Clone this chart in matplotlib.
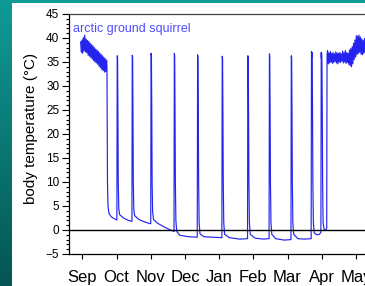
import matplotlib
matplotlib.use("Agg")
import matplotlib.pyplot as plt
import numpy as np
from matplotlib.patches import Rectangle

plt.rcParams['font.family'] = ['Liberation Sans', 'DejaVu Sans']

# months since 1 Sep (tick positions) and body temperature
month_labels = ['Sep', 'Oct', 'Nov', 'Dec', 'Jan', 'Feb', 'Mar', 'Apr', 'May']
month_ticks = [0, 1, 2, 3, 4, 5, 6, 7, 8]

# euthermic period before hibernation (noisy band)
autumn_t = [-0.05, -0.03, -0.01, 0.01, 0.03, 0.05, 0.07, 0.09, 0.11, 0.13,
            0.15, 0.17, 0.19, 0.21, 0.23, 0.25, 0.27, 0.29, 0.31, 0.33,
            0.35, 0.37, 0.39, 0.41, 0.43, 0.45, 0.47, 0.49, 0.51, 0.53,
            0.55, 0.57, 0.59, 0.61, 0.63, 0.65, 0.67, 0.69, 0.71]
autumn_T = [39.2, 37.0, 39.6, 36.8, 40.1, 37.3, 40.6, 37.1, 39.8, 36.9,
            39.5, 36.4, 39.3, 36.2, 38.9, 35.9, 38.6, 35.6, 38.4, 35.3,
            38.0, 35.0, 37.7, 34.8, 37.5, 34.5, 37.2, 34.1, 36.9, 33.8,
            36.6, 33.4, 36.3, 33.2, 36.0, 32.9, 35.7, 33.0, 35.4]

# torpor bouts and interbout arousals
torpor_t = [0.72, 0.725, 0.735, 0.75, 0.78, 0.84, 0.92, 1.01,
            1.015, 1.02, 1.03, 1.04, 1.05, 1.065, 1.09, 1.2, 1.35, 1.45,
            1.455, 1.46, 1.47, 1.48, 1.49, 1.505, 1.53, 1.65, 1.85, 2.0,
            2.005, 2.01, 2.02, 2.03, 2.04, 2.055, 2.08, 2.2, 2.4, 2.55, 2.68,
            2.685, 2.69, 2.70, 2.71, 2.72, 2.735, 2.76, 2.85, 3.1, 3.36,
            3.365, 3.37, 3.38, 3.39, 3.40, 3.415, 3.44, 3.55, 3.8, 4.08,
            4.085, 4.09, 4.10, 4.11, 4.12, 4.135, 4.16, 4.3, 4.6, 4.83,
            4.835, 4.84, 4.85, 4.86, 4.87, 4.885, 4.91, 5.05, 5.3, 5.46,
            5.465, 5.47, 5.48, 5.49, 5.50, 5.515, 5.54, 5.65, 5.9, 6.10,
            6.105, 6.11, 6.12, 6.13, 6.14, 6.155, 6.18, 6.3, 6.5, 6.69,
            6.695, 6.70, 6.705, 6.71, 6.72, 6.73, 6.74, 6.755, 6.78, 6.85, 6.93, 6.975,
            6.98, 6.985, 6.99, 6.995, 7.005, 7.015, 7.025, 7.04, 7.07, 7.11, 7.145,
            7.15, 7.155]
torpor_T = [34.0, 25.0, 10.0, 5.0, 3.4, 2.8, 2.4, 2.1,
            20.0, 36.3, 36.0, 25.0, 10.0, 4.5, 3.2, 2.5, 2.0, 1.8,
            20.0, 36.4, 36.0, 25.0, 10.0, 4.2, 3.0, 2.2, 1.6, 1.3,
            20.0, 36.8, 36.2, 25.0, 10.0, 3.8, 2.2, 1.4, 0.6, 0.1, -0.3,
            20.0, 36.8, 36.3, 25.0, 10.0, 2.0, -0.3, -1.1, -1.4, -1.5,
            20.0, 36.5, 36.0, 25.0, 10.0, 1.5, -0.8, -1.4, -1.5, -1.6,
            20.0, 36.2, 35.8, 25.0, 10.0, 1.5, -0.9, -1.6, -1.9, -1.8,
            20.0, 36.3, 35.8, 25.0, 10.0, 1.5, -0.9, -1.7, -1.9, -1.8,
            20.0, 36.7, 36.2, 25.0, 10.0, 1.5, -0.9, -1.8, -2.1, -2.0,
            20.0, 36.3, 35.9, 25.0, 10.0, 1.5, -0.9, -1.8, -1.9, -1.8,
            20.0, 37.2, 36.0, 37.0, 35.8, 25.0, 10.0, 1.5, -0.6, -1.0, -0.9, -0.5,
            20.0, 37.0, 35.8, 36.8, 35.5, 25.0, 10.0, 1.5, 0.1, 0.0, 0.3,
            20.0, 36.5]

# euthermic period after emergence (noisy band)
spring_t = [7.17, 7.19, 7.21, 7.23, 7.25, 7.27, 7.29, 7.31, 7.33, 7.35,
            7.37, 7.39, 7.41, 7.43, 7.45, 7.47, 7.49, 7.51, 7.53, 7.55,
            7.57, 7.59, 7.61, 7.63, 7.65, 7.67, 7.69, 7.71, 7.73, 7.75,
            7.77, 7.79, 7.81, 7.83, 7.85, 7.87, 7.89, 7.91, 7.93, 7.95,
            7.97, 7.99, 8.01, 8.03, 8.05, 8.07, 8.09, 8.11, 8.13, 8.15,
            8.17, 8.19, 8.21, 8.23, 8.25, 8.27, 8.29, 8.31, 8.33]
spring_T = [37.4, 34.6, 36.9, 34.8, 37.2, 35.0, 36.8, 34.7, 37.0, 34.9,
            36.7, 35.1, 37.1, 34.8, 36.9, 34.6, 36.8, 35.0, 37.0, 34.9,
            36.7, 35.2, 37.3, 34.8, 36.9, 35.0, 37.4, 34.7, 37.0, 34.9,
            36.8, 34.5, 37.5, 34.2, 37.8, 34.0, 38.2, 34.6, 38.9, 35.5,
            39.6, 36.0, 40.5, 36.5, 40.4, 36.8, 40.6, 37.0, 40.2, 36.6,
            39.8, 36.5, 39.5, 36.8, 39.9, 37.0, 40.0, 37.2, 39.6]

t = np.array(autumn_t + torpor_t + spring_t)
T = np.array(autumn_T + torpor_T + spring_T)

W, H = 365, 286
fig = plt.figure(figsize=(W / 100, H / 100), dpi=100)

# teal slide background with white panel
bg = fig.add_axes([0, 0, 1, 1])
grad = np.linspace(0, 1, 256)[:, None]
top_c = np.array([16, 155, 150]) / 255
bot_c = np.array([5, 85, 82]) / 255
img = top_c[None, None, :] * (1 - grad[:, :, None]) + bot_c[None, None, :] * grad[:, :, None]
bg.imshow(img, aspect='auto', extent=[0, 1, 0, 1])
bg.set_axis_off()
fig.add_artist(Rectangle((12 / W, 0), 1, 1 - 3 / H, transform=fig.transFigure,
                         facecolor='white', edgecolor='none', zorder=1))

left, right = 69 / W, 371 / W
bottom, top = 1 - 254 / H, 1 - 14 / H
ax = fig.add_axes([left, bottom, right - left, top - bottom])
ax.set_zorder(2)
ax.patch.set_alpha(0)

ax.plot(t, T, color='#2424ee', lw=0.85)
ax.axhline(0, color='black', lw=1.0)

ax.set_xlim(-0.39, 8.44)
ax.set_ylim(-5, 45)
ax.set_xticks(month_ticks)
ax.set_xticklabels(month_labels, fontsize=12)
ax.set_yticks(np.arange(-5, 46, 5))
ax.set_yticks(np.arange(-5, 46, 1), minor=True)
ax.tick_params(axis='y', which='major', length=5, width=0.8, labelsize=8.5, pad=2)
ax.tick_params(axis='y', which='minor', length=2.5, width=0.8)
ax.tick_params(axis='x', which='major', length=3.6, width=0.8, pad=8)
ax.spines['top'].set_color('#444444')
ax.spines['right'].set_visible(False)
for s in ['left', 'bottom', 'top']:
    ax.spines[s].set_linewidth(0.9)

ax.text(0.013, 0.925, 'arctic ground squirrel', transform=ax.transAxes,
        color='#4d4dff', fontsize=9, va='baseline', ha='left')

fig.text(31 / W, 1 - 128 / H, 'body temperature (°C)', rotation=90,
         ha='center', va='center', fontsize=11)

fig.savefig('out.png', dpi=100)
